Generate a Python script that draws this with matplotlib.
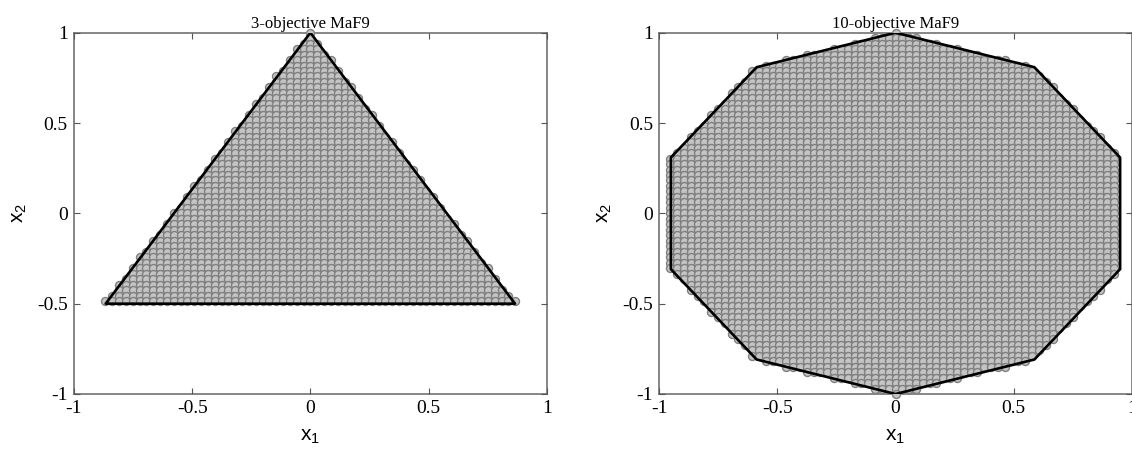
import numpy as np
import matplotlib
matplotlib.use("Agg")
import matplotlib.pyplot as plt

plt.rcParams["font.family"] = ["Liberation Serif", "DejaVu Serif"]
plt.rcParams["mathtext.fontset"] = "custom"
plt.rcParams["mathtext.rm"] = "Liberation Sans"
plt.rcParams["mathtext.default"] = "rm"

COLUMN_STEP = 0.0289

ROW_Y_3OBJ = [1.000, 0.970, 0.939, 0.909, 0.879, 0.848, 0.818, 0.788, 0.758, 0.727,
              0.697, 0.667, 0.636, 0.606, 0.576, 0.545, 0.515, 0.485, 0.455, 0.424,
              0.394, 0.364, 0.333, 0.303, 0.273, 0.242, 0.212, 0.182, 0.152, 0.121,
              0.091, 0.061, 0.030, 0.000, -0.030, -0.061, -0.091, -0.121, -0.152, -0.182,
              -0.212, -0.242, -0.273, -0.303, -0.333, -0.364, -0.394, -0.424, -0.455, -0.485]
LEFT_COLS_3OBJ = [0, 0, 1, 2, 2, 3, 3, 4, 5, 5,
                  6, 6, 7, 8, 8, 9, 9, 10, 11, 11,
                  12, 12, 13, 14, 14, 15, 15, 16, 17, 17,
                  18, 18, 19, 20, 20, 21, 21, 22, 23, 23,
                  24, 25, 25, 26, 26, 27, 28, 28, 29, 30]
RIGHT_COLS_3OBJ = [0, 0, 1, 1, 2, 3, 3, 4, 4, 5,
                   6, 6, 7, 7, 8, 9, 9, 10, 10, 11,
                   12, 12, 13, 13, 14, 15, 15, 16, 16, 17,
                   18, 18, 19, 19, 20, 21, 21, 22, 23, 23,
                   24, 24, 25, 26, 26, 27, 27, 28, 29, 30]

ROW_Y_10OBJ = ROW_Y_3OBJ + [-0.515, -0.545, -0.576, -0.606, -0.636, -0.667, -0.697, -0.727,
                            -0.758, -0.788, -0.818, -0.848, -0.879, -0.909, -0.939, -0.970, -1.000]
LEFT_COLS_10OBJ = [0, 3, 6, 9, 13, 16, 19, 21, 21, 22,
                   23, 24, 24, 25, 26, 27, 27, 28, 29, 30,
                   30, 31, 32, 33, 33, 33, 33, 33, 33, 33,
                   33, 33, 33, 33, 33, 33, 33, 33, 33, 33,
                   33, 33, 33, 33, 32, 31, 30, 30, 29, 28,
                   27, 27, 26, 25, 24, 24, 23, 22, 21, 21,
                   19, 16, 13, 9, 6, 3, 0]
RIGHT_COLS_10OBJ = [0, 3, 6, 9, 12, 16, 19, 20, 21, 22,
                    23, 23, 24, 25, 26, 26, 27, 28, 29, 30,
                    30, 31, 32, 32, 32, 32, 32, 32, 32, 32,
                    32, 32, 32, 32, 32, 32, 32, 32, 32, 32,
                    32, 32, 32, 32, 32, 31, 30, 30, 29, 28,
                    27, 26, 26, 25, 24, 23, 23, 22, 21, 20,
                    19, 16, 12, 9, 6, 3, 0]

TRIANGLE_X = [0, 0.866, -0.866, 0]
TRIANGLE_Y = [1, -0.5, -0.5, 1]
DECAGON_X = [0, 0.588, 0.951, 0.951, 0.588, 0, -0.588, -0.951, -0.951, -0.588, 0]
DECAGON_Y = [1, 0.809, 0.309, -0.309, -0.809, -1, -0.809, -0.309, 0.309, 0.809, 1]

TICKS = [-1, -0.5, 0, 0.5, 1]
TICK_LABELS = ["-1", "-0.5", "0", "0.5", "1"]


def lattice(row_y, left_cols, right_cols):
    # rows top to bottom, each left to right, so lower rows cover upper ones
    xs, ys = [], []
    for y, nl, nr in zip(row_y, left_cols, right_cols):
        for c in range(-nl, nr + 1):
            xs.append(c * COLUMN_STEP)
            ys.append(y)
    return np.array(xs), np.array(ys)


def draw_panel(ax, title, row_y, left_cols, right_cols, line_x, line_y):
    xs, ys = lattice(row_y, left_cols, right_cols)
    ax.scatter(xs, ys, s=33, facecolor="#c4c4c4", edgecolor="#808080",
               linewidth=1.0, clip_on=False, zorder=2)
    ax.plot(line_x, line_y, color="black", linewidth=1.9, zorder=3)
    ax.set_xlim(-1, 1)
    ax.set_ylim(-1, 1)
    ax.set_xticks(TICKS)
    ax.set_xticklabels(TICK_LABELS)
    ax.set_yticks(TICKS)
    ax.set_yticklabels(TICK_LABELS)
    ax.tick_params(direction="in", top=True, right=True, length=4.5, width=0.8,
                   color="#555555", labelsize=14, pad=4.5)
    for spine in ax.spines.values():
        spine.set_color("#666666")
        spine.set_linewidth(1.1)
        spine.set_zorder(1)
    ax.set_title(title, fontsize=12, pad=3.5)
    ax.set_xlabel("x$_{1}$", fontsize=15, family="Liberation Sans", labelpad=7)
    ax.set_ylabel("x$_{2}$", fontsize=15, family="Liberation Sans", labelpad=6)


W, H = 1132, 457
fig = plt.figure(figsize=(W / 100, H / 100), dpi=100)
ax1 = fig.add_axes([74 / W, 1 - 394 / H, 472.7 / W, 361.3 / H])
ax2 = fig.add_axes([659.3 / W, 1 - 394 / H, 472.4 / W, 361.3 / H])

draw_panel(ax1, "3-objective MaF9", ROW_Y_3OBJ, LEFT_COLS_3OBJ, RIGHT_COLS_3OBJ,
           TRIANGLE_X, TRIANGLE_Y)
draw_panel(ax2, "10-objective MaF9", ROW_Y_10OBJ, LEFT_COLS_10OBJ, RIGHT_COLS_10OBJ,
           DECAGON_X, DECAGON_Y)

fig.savefig("out.png", dpi=100)
